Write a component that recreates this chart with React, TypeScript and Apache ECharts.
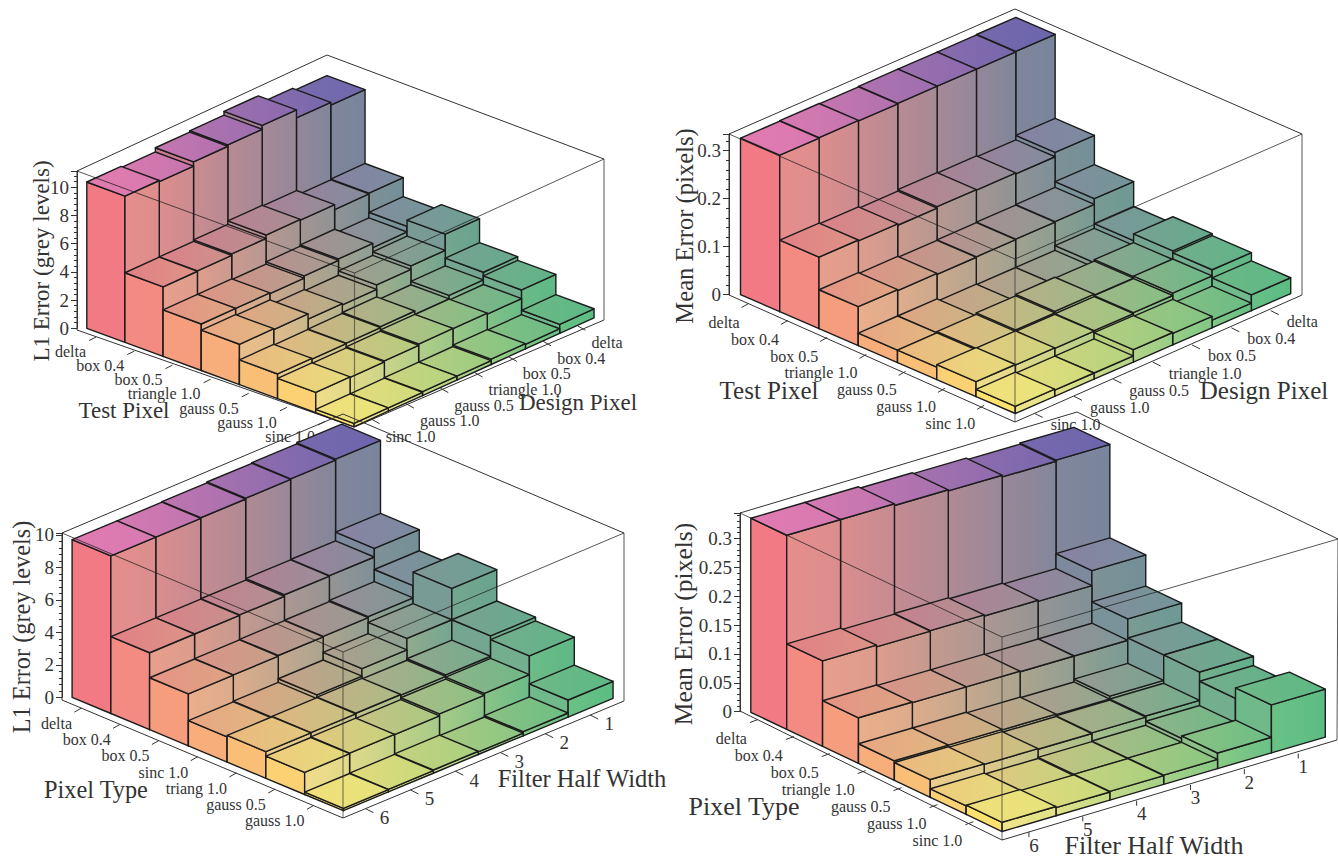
import React, { useEffect, useRef } from "react";
import * as echarts from "echarts";

// ---------- categories ----------
const testPixelLabels = ["delta", "box 0.4", "box 0.5", "triangle 1.0", "gauss 0.5", "gauss 1.0", "sinc 1.0"];
const designPixelLabels = ["sinc 1.0", "gauss 1.0", "gauss 0.5", "triangle 1.0", "box 0.5", "box 0.4", "delta"];
const pixelTypeLabelsA = ["delta", "box 0.4", "box 0.5", "sinc 1.0", "triang 1.0", "gauss 0.5", "gauss 1.0"];
const pixelTypeLabelsB = ["delta", "box 0.4", "box 0.5", "triangle 1.0", "gauss 0.5", "gauss 1.0", "sinc 1.0"];
const filterHalfWidthLabels = ["6", "5", "4", "3", "2", "1"];

// ---------- values (rows: left-axis category; columns: right-axis category from the front corner) ----------
const l1DesignValues = [
  [10.38, 10.3, 10.6, 10.7, 10.97, 10.4, 10.2],
  [4.94, 4.96, 5.06, 5.3, 5.25, 4.9, 4.96],
  [3.3, 3.3, 3.24, 3.4, 3.5, 3.2, 3.6],
  [2.86, 2.8, 2.43, 2.34, 2.65, 2.9, 4.04],
  [1.75, 1.7, 1.73, 1.8, 1.56, 1.8, 2.34],
  [1.44, 1.4, 1.47, 1.56, 1.54, 1.47, 2.08],
  [0.24, 0.24, 0.28, 0.28, 0.38, 0.33, 0.64],
];
const meanDesignValues = [
  [0.326, 0.327, 0.326, 0.327, 0.327, 0.327, 0.328],
  [0.149, 0.147, 0.144, 0.147, 0.146, 0.144, 0.153],
  [0.081, 0.079, 0.077, 0.078, 0.079, 0.08, 0.092],
  [0.026, 0.026, 0.021, 0.02, 0.02, 0.03, 0.04],
  [0.026, 0.029, 0.032, 0.035, 0.033, 0.036, 0.054],
  [0.031, 0.03, 0.029, 0.03, 0.032, 0.037, 0.05],
  [0.015, 0.013, 0.013, 0.026, 0.024, 0.016, 0.033],
];
const l1FilterValues = [
  [9.71, 9.71, 9.75, 9.8, 9.84, 9.9],
  [4.74, 4.74, 4.76, 4.85, 4.87, 5.4],
  [3.2, 3.22, 3.26, 3.28, 3.35, 4.1],
  [1.56, 1.6, 1.83, 2.3, 3.0, 4.93],
  [1.64, 1.66, 1.7, 1.66, 1.75, 3.0],
  [1.36, 1.4, 1.38, 1.5, 1.62, 2.77],
  [0.14, 0.16, 0.2, 0.16, 0.25, 1.05],
];
const meanFilterValues = [
  [0.336, 0.336, 0.333, 0.331, 0.328, 0.33],
  [0.148, 0.145, 0.146, 0.144, 0.142, 0.168],
  [0.079, 0.078, 0.078, 0.077, 0.077, 0.114],
  [0.034, 0.034, 0.033, 0.032, 0.037, 0.081],
  [0.031, 0.03, 0.029, 0.03, 0.032, 0.081],
  [0.015, 0.013, 0.015, 0.016, 0.023, 0.065],
  [0.016, 0.014, 0.015, 0.016, 0.027, 0.083],
];

// ---------- colours at the four floor corners: [left, back, front, right] ----------
const topCorners = ["#e27787", "#837da8", "#f3e87a", "#5db985"];
const tallTopCorners = ["#e27bb1", "#6c66ad", "#e27bb1", "#6c66ad"];
const leftFaceCorners = ["#f27a85", "#7f7fa0", "#fde270", "#70b98a"];
const rightFaceCorners = ["#e5868c", "#7b809f", "#f0e58a", "#5bbd84"];

const FONT = '"Liberation Serif", "Times New Roman", serif';
const TEXT = "#333";
const EDGE = "#1c1c1c";

type Pt = [number, number];
type Panel = {
  rows: number[][];
  uLabels: string[];
  vLabels: string[];
  yTitle: string;
  uTitle: string;
  vTitle: string;
  yMax: number;
  yInterval: number;
  zeroY: number;
  boxLeft: Pt; boxFront: Pt; boxRight: Pt;
  boxTopLeft: Pt; boxTopFront: Pt; boxTopRight: Pt; boxApex: Pt;
  origin: Pt; stepU: Pt; stepV: Pt;
  uTick: Pt; vTick: Pt; uLabelAt: Pt; vLabelAt: Pt; vAlign: string;
  yTitleAt: Pt; uTitleAt: Pt; vTitleAt: Pt;
  yTitleSize: number; uTitleSize: number; vTitleSize: number;
};

const panels: Panel[] = [
  {
    rows: l1DesignValues, uLabels: testPixelLabels, vLabels: designPixelLabels,
    yTitle: "L1 Error (grey levels)", uTitle: "Test Pixel", vTitle: "Design Pixel",
    yMax: 11.16, yInterval: 2, zeroY: 328.3,
    boxLeft: [77, 330], boxFront: [354.5, 427], boxRight: [604, 320],
    boxTopLeft: [77, 171], boxTopFront: [354.5, 273], boxTopRight: [604, 159], boxApex: [327, 55],
    origin: [86.8, 328.3], stepU: [38.16, 14.07], stepV: [34.3, -15.57],
    uTick: [-7, 3.5], vTick: [8, 4.5], uLabelAt: [-10, 14.7], vLabelAt: [14, 17], vAlign: "left",
    yTitleAt: [41, 261], uTitleAt: [124, 410], vTitleAt: [578, 402],
    yTitleSize: 23, uTitleSize: 23, vTitleSize: 23,
  },
  {
    rows: meanDesignValues, uLabels: testPixelLabels, vLabels: designPixelLabels,
    yTitle: "Mean Error (pixels)", uTitle: "Test Pixel", vTitle: "Design Pixel",
    yMax: 0.3348, yInterval: 0.1, zeroY: 294.7,
    boxLeft: [729, 295], boxFront: [1015, 422], boxRight: [1302, 295],
    boxTopLeft: [729, 134], boxTopFront: [1015, 259], boxTopRight: [1302, 134], boxApex: [1015, 9],
    origin: [740.5, 294.7], stepU: [39.26, 16.97], stepV: [39.34, -17.13],
    uTick: [-7, 4], vTick: [8, 4], uLabelAt: [-9, 18.6], vLabelAt: [16, 11], vAlign: "left",
    yTitleAt: [684, 226], uTitleAt: [769, 390], vTitleAt: [1264, 390],
    yTitleSize: 24.6, uTitleSize: 25, vTitleSize: 25,
  },
  {
    rows: l1FilterValues, uLabels: pixelTypeLabelsA, vLabels: filterHalfWidthLabels,
    yTitle: "L1 Error (grey levels)", uTitle: "Pixel Type", vTitle: "Filter Half Width",
    yMax: 10.12, yInterval: 2, zeroY: 697.3,
    boxLeft: [62, 700], boxFront: [343, 818], boxRight: [624, 701],
    boxTopLeft: [62, 533], boxTopFront: [343, 652], boxTopRight: [624, 533], boxApex: [343, 414],
    origin: [72.1, 697.3], stepU: [38.76, 16.2], stepV: [44.94, -18.73],
    uTick: [-7, 4], vTick: [8, 4], uLabelAt: [-9.4, 15.3], vLabelAt: [19, 9], vAlign: "center",
    yTitleAt: [21, 627], uTitleAt: [96, 789], vTitleAt: [582, 778],
    yTitleSize: 24.3, uTitleSize: 24.3, vTitleSize: 24.5,
  },
  {
    rows: meanFilterValues, uLabels: pixelTypeLabelsB, vLabels: filterHalfWidthLabels,
    yTitle: "Mean Error (pixels)", uTitle: "Pixel Type", vTitle: "Filter Half Width",
    yMax: 0.344, yInterval: 0.05, zeroY: 711.7,
    boxLeft: [740, 711], boxFront: [1002, 840], boxRight: [1337, 740],
    boxTopLeft: [740, 513], boxTopFront: [1002, 637], boxTopRight: [1338, 539], boxApex: [1077, 412],
    origin: [750.8, 712.3], stepU: [35.9, 17.03], stepV: [53.86, -15.73],
    uTick: [-8, 3], vTick: [0, 5], uLabelAt: [-11, 19], vLabelAt: [5, 13], vAlign: "center",
    yTitleAt: [683, 624], uTitleAt: [744, 806], vTitleAt: [1154, 845],
    yTitleSize: 25.5, uTitleSize: 26, vTitleSize: 26,
  },
];

const hex = (c: string) => [1, 3, 5].map((k) => parseInt(c.slice(k, k + 2), 16));
const clamp = (t: number) => Math.max(0, Math.min(1, t));
function cornerRgb(corners: string[], u: number, v: number) {
  const [l, b, f, r] = corners.map(hex);
  return l.map((_, k) => {
    const near = l[k] * (1 - v) + b[k] * v;
    const far = f[k] * (1 - v) + r[k] * v;
    return near * (1 - u) + far * u;
  });
}
const css = (c: number[]) => `rgb(${c.map(Math.round).join(",")})`;
const mixCorner = (corners: string[], u: number, v: number) => css(cornerRgb(corners, u, v));
function topColour(u: number, v: number, share: number) {
  const low = cornerRgb(topCorners, u, v);
  const high = cornerRgb(tallTopCorners, u, v);
  const t = clamp((share - 0.55) / 0.4);
  return css(low.map((c, k) => c * (1 - t) + high[k] * t));
}
const gradient = (c0: string, c1: string) =>
  new echarts.graphic.LinearGradient(0, 0, 1, 0, [
    { offset: 0, color: c0 },
    { offset: 1, color: c1 },
  ]);

function buildSeries(p: Panel, index: number) {
  const nU = p.rows.length;
  const nV = p.rows[0].length;
  const base = 10 + index * 10;
  const common = { type: "custom", xAxisIndex: index, yAxisIndex: index, silent: true, clip: false, animation: false };
  const floorPt = (a: number, b: number, h: number): Pt => [
    p.origin[0] + a * p.stepU[0] + b * p.stepV[0],
    p.origin[1] + a * p.stepU[1] + b * p.stepV[1] - h,
  ];
  const cu = (a: number) => clamp((a - 0.5) / (nU - 1));
  const cv = (b: number) => clamp((b - 0.5) / (nV - 1));

  const bars: number[][] = [];
  p.rows.forEach((row, i) => {
    for (let j = nV - 1; j >= 0; j--) bars.push([i, j, row[j]]);
  });

  const line = (a: Pt, b: Pt, stroke: string, lineWidth: number) => ({
    type: "line",
    shape: { x1: a[0], y1: a[1], x2: b[0], y2: b[1] },
    style: { stroke, lineWidth, fill: "none" },
    silent: true,
  });
  const text = (t: string, x: number, y: number, size: number, align: string, rotation = 0) => ({
    type: "text",
    x,
    y,
    rotation,
    silent: true,
    style: { text: t, fill: TEXT, font: `${size}px ${FONT}`, textAlign: align, textVerticalAlign: "middle" },
  });

  const boxBack = {
    ...common,
    z: base,
    data: [[0, 0]],
    renderItem: () => ({
      type: "group",
      children: [
        line(p.boxTopLeft, p.boxApex, "#333", 1),
        line(p.boxApex, p.boxTopRight, "#333", 1),
        line(p.boxTopRight, p.boxRight, "#555", 1),
        line(p.boxLeft, p.boxFront, "#333", 1),
        line(p.boxFront, p.boxRight, "#333", 1),
        line(p.boxTopLeft, p.boxLeft, "#333", 1),
      ],
    }),
  };

  const barSeries = {
    ...common,
    z: base + 1,
    data: bars,
    encode: { x: 0, y: 2 },
    renderItem: (_: any, api: any) => {
      const i = api.value(0);
      const j = api.value(1);
      const v = api.value(2);
      const h = api.coord([0, 0])[1] - api.coord([0, v])[1];
      const a0 = i, a1 = i + 1, b0 = j, b1 = j + 1;
      const share = v / p.yMax;
      const stroke = { stroke: EDGE, lineWidth: 1.4, lineJoin: "round" };
      return {
        type: "group",
        children: [
          {
            type: "polygon",
            shape: { points: [floorPt(a0, b0, 0), floorPt(a1, b0, 0), floorPt(a1, b0, h), floorPt(a0, b0, h)] },
            style: { fill: mixCorner(leftFaceCorners, cu(a0 + 0.5), cv(b0 + 0.5)), ...stroke },
          },
          {
            type: "polygon",
            shape: { points: [floorPt(a1, b0, 0), floorPt(a1, b1, 0), floorPt(a1, b1, h), floorPt(a1, b0, h)] },
            style: { fill: gradient(mixCorner(rightFaceCorners, cu(a1), cv(b0)), mixCorner(rightFaceCorners, cu(a1), cv(b1))), ...stroke },
          },
          {
            type: "polygon",
            shape: { points: [floorPt(a0, b0, h), floorPt(a1, b0, h), floorPt(a1, b1, h), floorPt(a0, b1, h)] },
            style: { fill: gradient(topColour(cu(a0), cv(b0), share), topColour(cu(a1), cv(b1), share)), ...stroke },
          },
        ],
      };
    },
  };

  const boxFront = {
    ...common,
    z: base + 2,
    data: [[0, 0]],
    renderItem: () => ({
      type: "group",
      children: [
        line(p.boxTopLeft, p.boxTopFront, "rgba(30,30,30,0.75)", 1),
        line(p.boxTopFront, p.boxTopRight, "rgba(30,30,30,0.75)", 1),
        line(p.boxTopFront, p.boxFront, "rgba(50,50,50,0.6)", 1.2),
      ],
    }),
  };

  const uItems = p.uLabels.map((_, i) => [i, 0]);
  const uAxis = {
    ...common,
    z: base + 3,
    data: uItems,
    renderItem: (params: any) => {
      const i = params.dataIndex;
      const x = p.boxLeft[0] + p.stepU[0] * (i + 0.5);
      const y = p.boxLeft[1] + p.stepU[1] * (i + 0.5);
      return {
        type: "group",
        children: [
          line([x, y], [x + p.uTick[0], y + p.uTick[1]], "#333", 1),
          text(p.uLabels[i], x + p.uLabelAt[0], y + p.uLabelAt[1], 16, "right"),
        ],
      };
    },
  };
  const vItems = p.vLabels.map((_, j) => [j, 0]);
  const vAxis = {
    ...common,
    z: base + 3,
    data: vItems,
    renderItem: (params: any) => {
      const j = params.dataIndex;
      const x = p.boxFront[0] + p.stepV[0] * (j + 0.5);
      const y = p.boxFront[1] + p.stepV[1] * (j + 0.5);
      return {
        type: "group",
        children: [
          line([x, y], [x + p.vTick[0], y + p.vTick[1]], "#333", 1),
          text(p.vLabels[j], x + p.vLabelAt[0], y + p.vLabelAt[1], p.vAlign === "left" ? 16 : 19, p.vAlign),
        ],
      };
    },
  };
  const titles = {
    ...common,
    z: base + 4,
    data: [[0, 0]],
    renderItem: () => ({
      type: "group",
      children: [
        text(p.yTitle, p.yTitleAt[0], p.yTitleAt[1], p.yTitleSize, "center", Math.PI / 2),
        text(p.uTitle, p.uTitleAt[0], p.uTitleAt[1], p.uTitleSize, "center"),
        text(p.vTitle, p.vTitleAt[0], p.vTitleAt[1], p.vTitleSize, "center"),
      ],
    }),
  };
  return [boxBack, barSeries, boxFront, uAxis, vAxis, titles];
}

function buildOption() {
  return {
    animation: false,
    backgroundColor: "#ffffff",
    grid: panels.map((p) => ({
      left: p.boxLeft[0],
      width: 20,
      top: p.boxTopLeft[1],
      height: p.zeroY - p.boxTopLeft[1],
      containLabel: false,
    })),
    xAxis: panels.map((_, i) => ({ type: "value", gridIndex: i, min: 0, max: 100, show: false })),
    yAxis: panels.map((p, i) => ({
      type: "value",
      gridIndex: i,
      min: 0,
      max: p.yMax,
      interval: p.yInterval,
      z: 10 + i * 10,
      axisLine: { show: true, lineStyle: { color: "#333", width: 1 } },
      axisTick: { show: true, inside: false, length: 6, lineStyle: { color: "#333" } },
      minorTick: { show: true, splitNumber: 5, length: 3, lineStyle: { color: "#333" } },
      splitLine: { show: false },
      minorSplitLine: { show: false },
      axisLabel: {
        color: TEXT,
        fontFamily: FONT,
        fontSize: 19,
        margin: 8,
        showMaxLabel: false,
        formatter: (v: number) => String(Math.round(v * 1000) / 1000),
      },
    })),
    series: panels.flatMap((p, i) => buildSeries(p, i)),
  };
}

export default function App() {
  const ref = useRef<HTMLDivElement>(null);
  useEffect(() => {
    const chart = echarts.init(ref.current!, null, { renderer: "svg" });
    chart.setOption(buildOption() as any);
    return () => chart.dispose();
  }, []);
  return <div ref={ref} style={{ position: "absolute", left: 0, top: 0, width: 1338, height: 858 }} />;
}
